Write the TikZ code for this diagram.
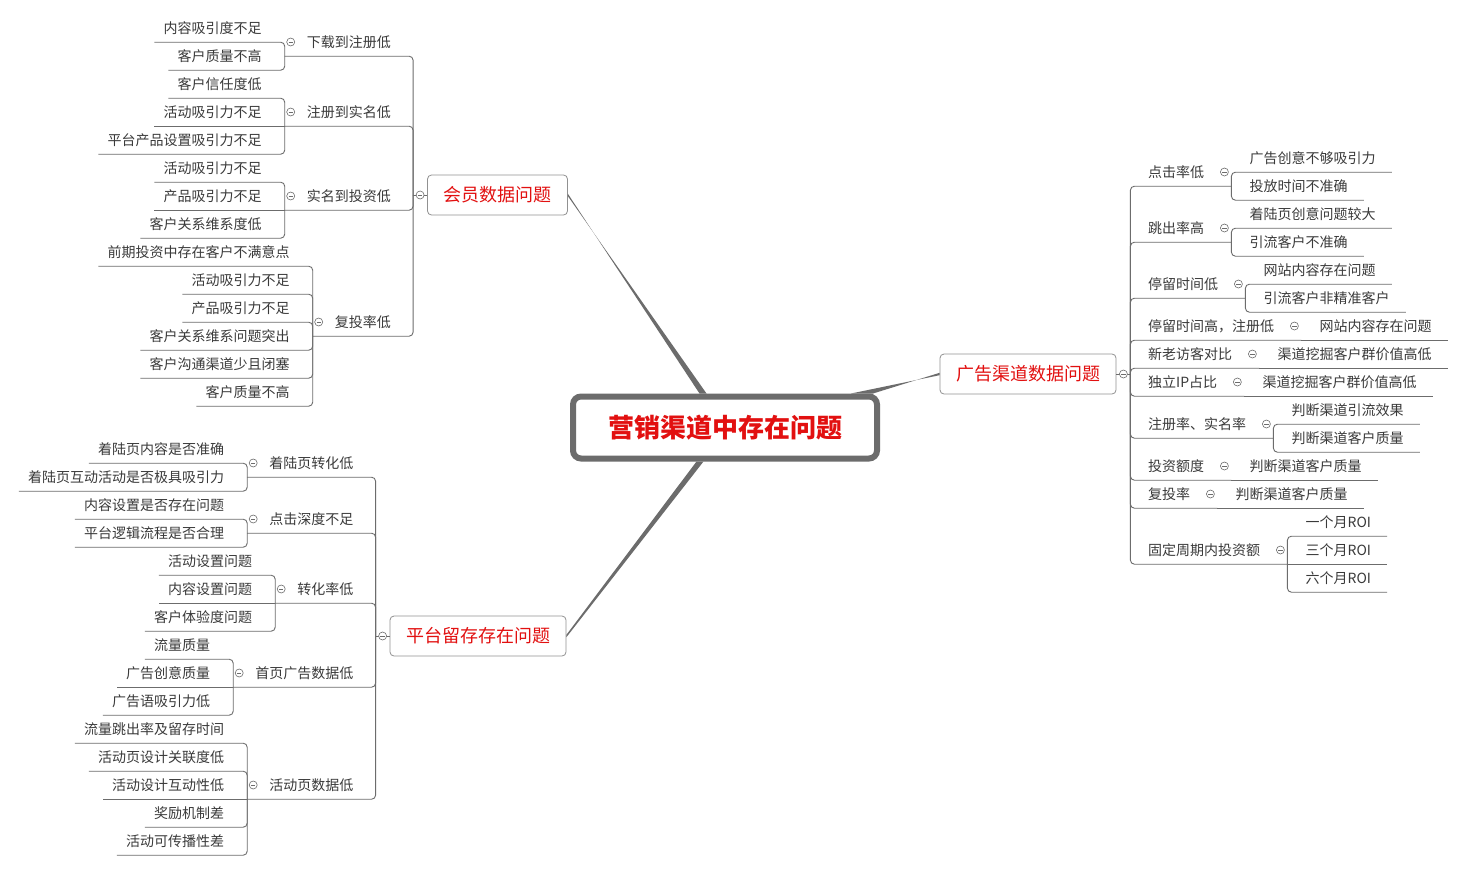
\documentclass[tikz,border=0pt]{standalone}
\usepackage{fontspec}
\newfontfamily\cjk{Noto Sans CJK SC}
\usepackage{xcolor}
\definecolor{mmred}{RGB}{226,16,16}
\definecolor{mmline}{RGB}{108,108,108}
\definecolor{mmtext}{RGB}{58,58,58}
\definecolor{mmbox}{RGB}{145,145,145}
\usetikzlibrary{positioning}
\tikzset{
  hub/.style={draw=mmline, line width=6pt, rounded corners=8pt, fill=white, text=mmred, font=\cjk\bfseries\fontsize{26}{26}\selectfont, minimum width=304pt, minimum height=62pt},
  topic/.style={draw=mmbox, line width=0.8pt, rounded corners=4pt, fill=white, text=mmred, font=\cjk\fontsize{18}{18}\selectfont, inner xsep=16pt, minimum height=40pt},
  subtopic/.style={text=mmtext, font=\cjk\fontsize{14}{14}\selectfont, inner ysep=0pt, minimum height=28pt},
  subl/.style={subtopic, anchor=east, inner xsep=22pt},
  subr/.style={subtopic, anchor=west, inner xsep=27pt},
  leafl/.style={subtopic, inner xsep=9pt},
  leafr/.style={subtopic, inner xsep=16pt},
  link/.style={draw=mmline, line width=0.9pt, rounded corners=4pt},
  branch/.style={fill=mmline},
  fold/.style={circle, draw=mmline, fill=white, line width=0.6pt, minimum size=8pt, inner sep=0pt,
    path picture={\draw[mmline, line width=0.6pt] ([xshift=-2.2pt]path picture bounding box.center) -- ([xshift=2.2pt]path picture bounding box.center);}}
}

\begin{document}
\begin{tikzpicture}[x=1pt, y=-1pt]
  \path[use as bounding box, fill=white] (0,0) rectangle (1463,870);

  % centre and main topics
  \node[hub] (ctr) at (725,427.5) {营销渠道中存在问题};
  \node[topic] (m1) at (497.5,195) {会员数据问题};
  \node[topic] (m2) at (1028,374) {广告渠道数据问题};
  \node[topic] (m3) at (478,636) {平台留存存在问题};
  \coordinate (j1) at ([xshift=-14pt]m1.west);
  \coordinate (j2) at ([xshift=14pt]m2.east);
  \coordinate (j3) at ([xshift=-14pt]m3.west);
  \coordinate (t1) at ([xshift=-22pt]ctr.north);
  \coordinate (t2) at ([xshift=137pt]ctr.north);
  \coordinate (t3) at ([xshift=-25pt]ctr.south);
  \fill[branch] ([yshift=1.2pt]m1.east) -- ([yshift=-1.2pt]m1.east) -- ([xshift=3.5pt]t1) -- ([xshift=-3.5pt]t1) -- cycle;
  \fill[branch] ([yshift=1.2pt]m2.west) -- ([yshift=-1.2pt]m2.west) -- ([xshift=-11pt]t2) -- ([xshift=11pt]t2) -- cycle;
  \fill[branch] ([yshift=1.2pt]m3.east) -- ([yshift=-1.2pt]m3.east) -- ([xshift=3.5pt]t3) -- ([xshift=-3.5pt]t3) -- cycle;
  \draw[link] (m1.west) -- (j1); \draw[link] (m2.east) -- (j2); \draw[link] (m3.west) -- (j3);

  % 会员数据问题
  \node[subl] (a1) at (j1 |- 0,42) {下载到注册低};
  \node[subl] (a2) at (j1 |- 0,112) {注册到实名低};
  \node[subl] (a3) at (j1 |- 0,196) {实名到投资低};
  \node[subl] (a4) at (j1 |- 0,322) {复投率低};
  \node[leafl, left=14pt of a1.west, yshift=14pt] (a11) {内容吸引度不足};
  \node[leafl, left=14pt of a1.west, yshift=-14pt] (a12) {客户质量不高};
  \node[leafl, left=14pt of a2.west, yshift=28pt] (a21) {客户信任度低};
  \node[leafl, left=14pt of a2.west] (a22) {活动吸引力不足};
  \node[leafl, left=14pt of a2.west, yshift=-28pt] (a23) {平台产品设置吸引力不足};
  \node[leafl, left=14pt of a3.west, yshift=28pt] (a31) {活动吸引力不足};
  \node[leafl, left=14pt of a3.west] (a32) {产品吸引力不足};
  \node[leafl, left=14pt of a3.west, yshift=-28pt] (a33) {客户关系维系度低};
  \node[leafl, left=14pt of a4.west, yshift=70pt] (a41) {前期投资中存在客户不满意点};
  \node[leafl, left=14pt of a4.west, yshift=42pt] (a42) {活动吸引力不足};
  \node[leafl, left=14pt of a4.west, yshift=14pt] (a43) {产品吸引力不足};
  \node[leafl, left=14pt of a4.west, yshift=-14pt] (a44) {客户关系维系问题突出};
  \node[leafl, left=14pt of a4.west, yshift=-42pt] (a45) {客户沟通渠道少且闭塞};
  \node[leafl, left=14pt of a4.west, yshift=-70pt] (a46) {客户质量不高};
  \draw[link] (j1) |- (a1.south west); \draw[link] (j1) |- (a2.south west);
  \draw[link] (j1) |- (a3.south west); \draw[link] (j1) |- (a4.south west);
  \draw[link] (a1.south west) |- (a11.south west); \draw[link] (a1.south west) |- (a12.south west);
  \draw[link] (a2.south west) |- (a21.south west); \draw[link] (a2.south west) -- (a22.south west);
  \draw[link] (a2.south west) |- (a23.south west);
  \draw[link] (a3.south west) |- (a31.south west); \draw[link] (a3.south west) -- (a32.south west);
  \draw[link] (a3.south west) |- (a33.south west);
  \draw[link] (a4.south west) |- (a41.south west); \draw[link] (a4.south west) |- (a42.south west);
  \draw[link] (a4.south west) |- (a43.south west); \draw[link] (a4.south west) |- (a44.south west);
  \draw[link] (a4.south west) |- (a45.south west); \draw[link] (a4.south west) |- (a46.south west);

  % 平台留存存在问题
  \node[subl] (b1) at (j3 |- 0,463) {着陆页转化低};
  \node[subl] (b2) at (j3 |- 0,519) {点击深度不足};
  \node[subl] (b3) at (j3 |- 0,589) {转化率低};
  \node[subl] (b4) at (j3 |- 0,673) {首页广告数据低};
  \node[subl] (b5) at (j3 |- 0,785) {活动页数据低};
  \node[leafl, left=14pt of b1.west, yshift=14pt] (b11) {着陆页内容是否准确};
  \node[leafl, left=14pt of b1.west, yshift=-14pt] (b12) {着陆页互动活动是否极具吸引力};
  \node[leafl, left=14pt of b2.west, yshift=14pt] (b21) {内容设置是否存在问题};
  \node[leafl, left=14pt of b2.west, yshift=-14pt] (b22) {平台逻辑流程是否合理};
  \node[leafl, left=14pt of b3.west, yshift=28pt] (b31) {活动设置问题};
  \node[leafl, left=14pt of b3.west] (b32) {内容设置问题};
  \node[leafl, left=14pt of b3.west, yshift=-28pt] (b33) {客户体验度问题};
  \node[leafl, left=14pt of b4.west, yshift=28pt] (b41) {流量质量};
  \node[leafl, left=14pt of b4.west] (b42) {广告创意质量};
  \node[leafl, left=14pt of b4.west, yshift=-28pt] (b43) {广告语吸引力低};
  \node[leafl, left=14pt of b5.west, yshift=56pt] (b51) {流量跳出率及留存时间};
  \node[leafl, left=14pt of b5.west, yshift=28pt] (b52) {活动页设计关联度低};
  \node[leafl, left=14pt of b5.west] (b53) {活动设计互动性低};
  \node[leafl, left=14pt of b5.west, yshift=-28pt] (b54) {奖励机制差};
  \node[leafl, left=14pt of b5.west, yshift=-56pt] (b55) {活动可传播性差};
  \draw[link] (j3) |- (b1.south west); \draw[link] (j3) |- (b2.south west);
  \draw[link] (j3) |- (b3.south west); \draw[link] (j3) |- (b4.south west);
  \draw[link] (j3) |- (b5.south west);
  \draw[link] (b1.south west) |- (b11.south west); \draw[link] (b1.south west) |- (b12.south west);
  \draw[link] (b2.south west) |- (b21.south west); \draw[link] (b2.south west) |- (b22.south west);
  \draw[link] (b3.south west) |- (b31.south west); \draw[link] (b3.south west) -- (b32.south west);
  \draw[link] (b3.south west) |- (b33.south west);
  \draw[link] (b4.south west) |- (b41.south west); \draw[link] (b4.south west) -- (b42.south west);
  \draw[link] (b4.south west) |- (b43.south west);
  \draw[link] (b5.south west) |- (b51.south west); \draw[link] (b5.south west) |- (b52.south west);
  \draw[link] (b5.south west) -- (b53.south west); \draw[link] (b5.south west) |- (b54.south west);
  \draw[link] (b5.south west) |- (b55.south west);

  % 广告渠道数据问题
  \node[subr] (c1) at (1121,172) {点击率低};
  \node[subr] (c2) at (1121,228) {跳出率高};
  \node[subr] (c3) at (1121,284) {停留时间低};
  \node[subr] (c4) at (1121,326) {停留时间高，注册低};
  \node[subr] (c5) at (1121,354) {新老访客对比};
  \node[subr] (c6) at (1121,382) {独立IP占比};
  \node[subr] (c7) at (1121,424) {注册率、实名率};
  \node[subr] (c8) at (1121,466) {投资额度};
  \node[subr] (c9) at (1121,494) {复投率};
  \node[subr] (c10) at (1121,550) {固定周期内投资额};
  \node[leafr, right=2pt of c1.east, yshift=14pt] (c11) {广告创意不够吸引力};
  \node[leafr, right=2pt of c1.east, yshift=-14pt] (c12) {投放时间不准确};
  \node[leafr, right=2pt of c2.east, yshift=14pt] (c21) {着陆页创意问题较大};
  \node[leafr, right=2pt of c2.east, yshift=-14pt] (c22) {引流客户不准确};
  \node[leafr, right=2pt of c3.east, yshift=14pt] (c31) {网站内容存在问题};
  \node[leafr, right=2pt of c3.east, yshift=-14pt] (c32) {引流客户非精准客户};
  \node[leafr, right=2pt of c4.east] (c41) {网站内容存在问题};
  \node[leafr, right=2pt of c5.east] (c51) {渠道挖掘客户群价值高低};
  \node[leafr, right=2pt of c6.east] (c61) {渠道挖掘客户群价值高低};
  \node[leafr, right=2pt of c7.east, yshift=14pt] (c71) {判断渠道引流效果};
  \node[leafr, right=2pt of c7.east, yshift=-14pt] (c72) {判断渠道客户质量};
  \node[leafr, right=2pt of c8.east] (c81) {判断渠道客户质量};
  \node[leafr, right=2pt of c9.east] (c91) {判断渠道客户质量};
  \node[leafr, right=2pt of c10.east, yshift=28pt] (c101) {一个月ROI};
  \node[leafr, right=2pt of c10.east] (c102) {三个月ROI};
  \node[leafr, right=2pt of c10.east, yshift=-28pt] (c103) {六个月ROI};
  \draw[link] (j2) |- (c1.south east); \draw[link] (j2) |- (c2.south east);
  \draw[link] (j2) |- (c3.south east); \draw[link] (j2) |- (c4.south east);
  \draw[link] (j2) |- (c5.south east); \draw[link] (j2) |- (c6.south east);
  \draw[link] (j2) |- (c7.south east); \draw[link] (j2) |- (c8.south east);
  \draw[link] (j2) |- (c9.south east); \draw[link] (j2) |- (c10.south east);
  \draw[link] (c1.south east) |- (c11.south east); \draw[link] (c1.south east) |- (c12.south east);
  \draw[link] (c2.south east) |- (c21.south east); \draw[link] (c2.south east) |- (c22.south east);
  \draw[link] (c3.south east) |- (c31.south east); \draw[link] (c3.south east) |- (c32.south east);
  \draw[link] (c4.south east) -- (c41.south east); \draw[link] (c5.south east) -- (c51.south east);
  \draw[link] (c6.south east) -- (c61.south east);
  \draw[link] (c7.south east) |- (c71.south east); \draw[link] (c7.south east) |- (c72.south east);
  \draw[link] (c8.south east) -- (c81.south east); \draw[link] (c9.south east) -- (c91.south east);
  \draw[link] (c10.south east) |- (c101.south east); \draw[link] (c10.south east) -- (c102.south east);
  \draw[link] (c10.south east) |- (c103.south east);

  % collapse markers
  \node[fold] (fm1) at ([xshift=-7pt]m1.west) {};
  \node[fold] (fm2) at ([xshift=7pt]m2.east) {};
  \node[fold] (fm3) at ([xshift=-7pt]m3.west) {};
  \node[fold] (fa1) at ([xshift=6pt]a1.west) {}; \node[fold] (fa2) at ([xshift=6pt]a2.west) {};
  \node[fold] (fa3) at ([xshift=6pt]a3.west) {}; \node[fold] (fa4) at ([xshift=6pt]a4.west) {};
  \node[fold] (fb1) at ([xshift=6pt]b1.west) {}; \node[fold] (fb2) at ([xshift=6pt]b2.west) {};
  \node[fold] (fb3) at ([xshift=6pt]b3.west) {}; \node[fold] (fb4) at ([xshift=6pt]b4.west) {};
  \node[fold] (fb5) at ([xshift=6pt]b5.west) {};
  \node[fold] (fc1) at ([xshift=-7pt]c1.east) {}; \node[fold] (fc2) at ([xshift=-7pt]c2.east) {};
  \node[fold] (fc3) at ([xshift=-7pt]c3.east) {}; \node[fold] (fc4) at ([xshift=-7pt]c4.east) {};
  \node[fold] (fc5) at ([xshift=-7pt]c5.east) {}; \node[fold] (fc6) at ([xshift=-7pt]c6.east) {};
  \node[fold] (fc7) at ([xshift=-7pt]c7.east) {}; \node[fold] (fc8) at ([xshift=-7pt]c8.east) {};
  \node[fold] (fc9) at ([xshift=-7pt]c9.east) {}; \node[fold] (fc10) at ([xshift=-7pt]c10.east) {};
\end{tikzpicture}
\end{document}
